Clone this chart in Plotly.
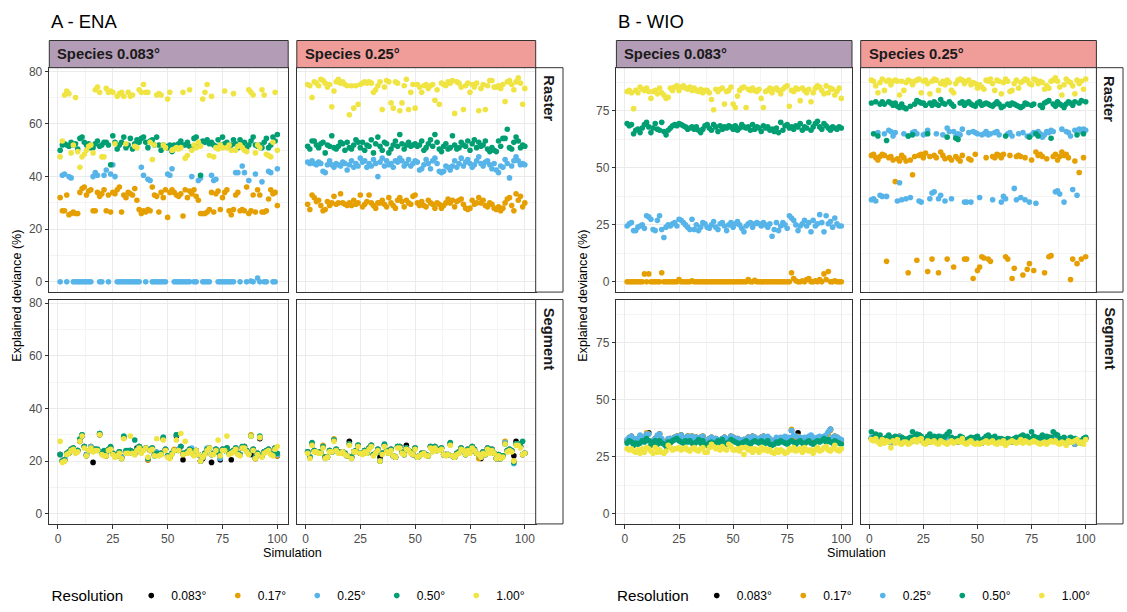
import plotly.graph_objects as go

W, H = 1127, 612
FONT = "Liberation Sans, Arial, Helvetica, sans-serif"

simulation = list(range(1, 101))
resolutions = ["0.083°", "0.17°", "0.25°", "0.50°", "1.00°"]
res_colors = ["#000000", "#E69F00", "#56B4E9", "#009E73", "#F0E442"]
species_labels = ["Species 0.083°", "Species 0.25°"]
species_fill = ["#B39CB5", "#F09D9A"]
method_labels = ["Raster", "Segment"]
panel_titles = {"A": "A - ENA", "B": "B - WIO"}
x_ticks = [0, 25, 50, 75, 100]
y_ticks = {"A": [0, 20, 40, 60, 80], "B": [0, 25, 50, 75]}

# ---------------- A - ENA, Species 0.083°, Raster ----------------
ena_r083_017 = [
    32, 27, 27, 33, 25.5, 26, 26.5, 26, 26, 34,
    35.5, 36, 33, 34.5, 35, 27, 27, 34, 32.5, 33.5,
    35, 27, 33, 26.5, 34, 33.5, 35, 36, 26.5, 33,
    32, 34, 33.5, 33, 35.5, 31, 27.5, 26, 27, 26.5,
    27.5, 27, 36, 33, 32.5, 26.5, 34, 32, 35, 24.5,
    34, 35, 34, 33, 32.5, 33.5, 25, 35, 32, 34.5,
    33.5, 35, 32.5, 31, 26, 26, 26, 26.5, 27.5, 34,
    26.5, 33.5, 34.5, 27.5, 32, 34, 35, 27, 25.5, 27.5,
    33, 34, 27, 27.5, 27, 36, 26, 27, 33, 26.5,
    35, 33, 26.5, 26.5, 27, 31.5, 35, 33.5, 34, 29,
]
ena_r083_025 = [
    0, 40.5, 41, 0, 40, 39.5, 0, 0, 0, 0,
    0, 0, 0, 0, 0, 40, 41.5, 40.5, 0, 0,
    40.5, 42.5, 0, 41, 44.5, 40, 0, 0, 0, 0,
    0, 0, 0, 0, 0, 0, 0, 43.5, 40.5, 0,
    39, 38.5, 0, 0, 0, 0, 0, 0, 0, 41,
    40.5, 43, 0, 0, 0, 0, 0, 0, 0, 0,
    40, 0, 0, 38.5, 39.5, 0, 0, 0, 0, 40.5,
    38.5, 39, 0, 0, 0, 0, 0, 0, 0, 0,
    41.5, 41.5, 0, 44, 41.5, 0, 38.5, 0.3, 0, 41,
    1.5, 0, 38, 0, 0, 42, 41.5, 0, 0, 43,
]
ena_r083_050 = [
    50, 52, 52.5, 52, 51.5, 53, 52, 52.5, 50.5, 54.5,
    55, 53, 52, 52.5, 51, 51, 52.5, 53.5, 51.5, 52,
    53, 53, 52, 44.5, 55.5, 53, 50.5, 52, 53, 55,
    51, 52, 54.5, 50.5, 52.5, 54, 53, 54.5, 55, 53,
    51, 53.5, 54, 52, 55, 52, 50, 52, 51.5, 51,
    52, 49.5, 52, 51, 52.5, 53.5, 52, 52, 53, 51.5,
    51, 54.5, 55, 52, 40.5, 53.5, 53, 54, 52.5, 53,
    52, 51.5, 54, 52, 55, 52.5, 53, 51.5, 52, 54,
    52.5, 51, 54, 52, 53, 51, 52, 53.5, 55, 52,
    51.5, 52, 51, 53, 54.5, 51, 52, 55, 53.5, 56,
]
ena_r083_100 = [
    47.5, 53.5, 71, 72.5, 71.5, 49, 52, 70, 49.5, 43.5,
    47.5, 48.5, 50, 51.5, 52, 49, 73, 74, 72, 47.5,
    47.5, 73.5, 72, 72.5, 72, 52.5, 70.5, 71.5, 72, 70.5,
    52.5, 72, 70.5, 71, 51.5, 51, 73, 72, 75, 72,
    72, 53, 46.5, 52, 71, 71.5, 71, 52, 51, 69.5,
    72, 50, 50.5, 51, 50.5, 51, 72, 47, 48, 73,
    50, 52, 51, 53, 51.5, 69.5, 72, 75, 48, 70.5,
    47.5, 51, 50.5, 52, 51, 72.5, 51, 52, 50, 71.5,
    50, 51.5, 52, 51, 50, 49.5, 73, 72, 71, 49,
    52, 51, 73, 71, 48.5, 48, 47.5, 53, 72, 50,
]

# ---------------- A - ENA, Species 0.25°, Raster ----------------
ena_r025_017 = [
    29.5, 27.5, 33, 32, 30.5, 31, 29, 27, 27.5, 30.5,
    29, 30, 32.5, 29.5, 30, 33.5, 30, 29.5, 29, 30,
    29, 31, 29.5, 30, 33, 28.5, 29.5, 30.5, 33, 30,
    29, 28, 30, 30, 31, 29.5, 28.5, 32, 30, 29,
    28, 31, 32, 30.5, 28.5, 31, 30, 29.5, 32.5, 33,
    30, 29, 30.5, 29, 28.5, 31, 30, 29.5, 28, 30,
    29.5, 28, 29, 30, 31.5, 30, 31, 28.5, 30.5, 31,
    31.5, 29.5, 28, 27.5, 28, 31, 29.5, 30, 32, 30,
    31, 29, 28.5, 30, 29.5, 28, 27.5, 28.5, 27, 28,
    30, 31.5, 32, 29, 27, 33.5, 31, 32.5, 28.5, 30,
]
ena_r025_025 = [
    45.5, 45, 46, 45, 44.5, 45.5, 45, 42, 41.5, 44.5,
    46, 44.5, 43.5, 45, 44.5, 44, 45.5, 45, 42.5, 44.5,
    46, 43.5, 45, 44, 47, 45.5, 46, 43.5, 45, 44,
    46.5, 45, 40, 45.5, 47, 44, 46, 44.5, 45, 43.5,
    46, 45.5, 47, 46, 44, 45, 46.5, 44, 45, 46,
    45.5, 42.5, 43, 44.5, 46.5, 45, 43, 46, 47, 45,
    42, 41.5, 42, 44, 43.5, 42.5, 44, 46, 43.5, 45,
    47, 44, 45.5, 46.5, 45, 43.5, 44.5, 46, 47.5, 45,
    44, 45.5, 46, 44.5, 43, 45, 42.5, 41.5, 44, 43.5,
    46.5, 45, 39.5, 44, 46, 47.5, 46, 44.5, 45, 44.5,
]
ena_r025_050 = [
    51.5, 50.5, 53.5, 53.5, 52, 51, 52.5, 53, 49, 52,
    51.5, 55.5, 51, 50.5, 51.5, 53, 52.5, 50, 53, 51,
    50.5, 52, 54, 53, 51, 53, 50, 52, 51.5, 54,
    49, 52.5, 55, 51.5, 50, 53, 52.5, 49, 50.5, 52,
    53.5, 51.5, 56, 52.5, 50.5, 52, 53, 51.5, 52, 52.5,
    51.5, 52, 53.5, 50, 51, 52.5, 54, 51.5, 56, 53,
    50.5, 49.5, 51.5, 52.5, 50.5, 51, 55.5, 52, 50.5, 51,
    53, 52, 51.5, 53.5, 50, 52.5, 54, 51, 53, 51.5,
    52, 53.5, 50.5, 49.5, 51, 50, 49.5, 53.5, 51.5, 54.5,
    54.5, 58, 51, 50.5, 53, 55, 53.5, 51, 52, 51.5,
]
ena_r025_100 = [
    75, 74.5, 70, 76, 75.5, 74.5, 77, 76.5, 75.5, 74,
    75, 66.5, 72.5, 76, 77, 75.5, 76, 75, 74.5, 63.5,
    74.5, 66, 74.5, 67.5, 75, 75.5, 76, 75.5, 76, 75.5,
    72, 73, 74.5, 76, 65.5, 74, 76.5, 76, 68, 66,
    76, 75.5, 65, 68, 74.5, 77, 65.5, 72, 75, 66,
    75, 74, 72, 74.5, 75, 73.5, 74.5, 75, 69, 73,
    67.5, 75.5, 75, 74.5, 76, 75.5, 76.5, 64, 76, 75.5,
    74, 65.5, 74.5, 75.5, 72, 75, 74, 75.5, 65, 73.5,
    75, 65.5, 74.5, 76.5, 76.5, 74, 74, 74.5, 73.5, 75,
    68.5, 76, 76.5, 75, 73, 76, 77.5, 75.5, 67.5, 73.5,
]

# ---------------- A - ENA, Species 0.083°, Segment ----------------
ena_s083_008 = [
    22.5, 20, 20.5, 22.5, 23, 24.5, 25, 23.5, 24, 27.5,
    29.5, 25.5, 22.5, 24, 25.5, 19.5, 24.5, 24, 30, 23.5,
    22.5, 22, 24, 25, 23, 22, 22.5, 23.5, 21.5, 29,
    23.5, 23.5, 24, 23, 23, 25, 25.5, 23.5, 24.5, 25,
    20.5, 24, 25, 22.5, 23, 22.5, 23, 28.5, 24.5, 22,
    21.5, 23, 24, 29.5, 24.5, 25.5, 20.5, 23, 23.5, 24.5,
    23.5, 22.5, 24, 22.5, 20, 21, 23, 24.5, 25, 19.5,
    23, 24.5, 23.5, 20.5, 24.5, 24, 25, 23, 20.5, 24,
    25, 23, 22.5, 25, 25.5, 24, 23, 22.5, 24.5, 21,
    23, 28.5, 22, 23.5, 24, 24.5, 23, 22.5, 25, 22,
]
ena_s083_017 = [
    22.5, 20, 20, 23, 23.5, 24.5, 25, 23.5, 24, 28,
    30, 25.5, 22, 24, 25.5, 24, 24, 24.5, 30.5, 23,
    22.5, 22, 24.5, 25, 23, 22, 22, 23.5, 21, 29,
    23.5, 23.5, 24, 23.5, 22.5, 24.5, 25.5, 23.5, 24.5, 25,
    20.5, 24, 25, 22.5, 23, 22.5, 22.5, 28.5, 24.5, 22,
    21.5, 23, 24.5, 30, 24, 25.5, 22.5, 23, 23.5, 24.5,
    23.5, 22.5, 24, 22.5, 20, 21.5, 23, 24.5, 25, 22.5,
    23, 24.5, 23.5, 21.5, 24.5, 24, 25, 23, 23.5, 24,
    25, 23, 22.5, 25, 25.5, 24, 23, 30, 24.5, 21,
    23, 29, 22, 23.5, 24, 24.5, 23, 22.5, 25, 22,
]
ena_s083_025 = [
    22.5, 20, 20.5, 22.5, 23.5, 24.5, 25, 23.5, 24, 28,
    30, 25.5, 22.5, 24, 25.5, 24, 24.5, 24.5, 30.5, 23.5,
    22.5, 22.5, 24, 25, 23, 22, 22, 23.5, 21.5, 29,
    23.5, 23.5, 24, 23, 23, 24.5, 25.5, 23.5, 24.5, 25,
    21, 24, 25, 22, 23.5, 22.5, 23, 29, 24.5, 22,
    21.5, 23, 24, 30, 24.5, 25.5, 23, 23, 23.5, 24.5,
    25, 22.5, 24, 22.5, 20, 21.5, 23, 25, 25, 22.5,
    23, 24.5, 23.5, 21, 24.5, 24, 25, 23, 23.5, 24,
    25, 23, 22.5, 25.5, 25.5, 24, 23, 29.5, 24.5, 21.5,
    23, 29, 22, 23.5, 24, 24.5, 23, 22.5, 25, 22.5,
]
ena_s083_050 = [
    22.5, 20, 20.5, 23, 23.5, 24.5, 25, 23.5, 24, 28.5,
    30, 25.5, 22, 24, 25, 24, 24.5, 24.5, 30.5, 23,
    24, 22.5, 24.5, 25.5, 23, 22, 22, 23.5, 21, 29.5,
    24, 24, 24, 23.5, 28, 24.5, 25.5, 23.5, 24.5, 25,
    21, 24.5, 25, 22, 23, 22.5, 23, 29, 24.5, 22,
    21.5, 23, 24, 30, 24, 25.5, 23, 23, 23.5, 24.5,
    24, 22.5, 24, 22.5, 20, 21.5, 23, 24.5, 25, 22.5,
    23, 24.5, 23.5, 22, 24.5, 24, 25, 23, 23.5, 24,
    25, 23, 22.5, 25.5, 25.5, 24, 23, 29.5, 24.5, 21.5,
    23, 29.5, 22, 23.5, 24, 24.5, 23, 22.5, 25, 23,
]
ena_s083_100 = [
    27.5, 19.5, 20, 22.5, 23, 24, 24.5, 23, 23.5, 27.5,
    29.5, 25, 22, 24, 25, 23.5, 24, 24, 30, 22.5,
    22, 22, 24, 24.5, 22.5, 21.5, 22, 23, 21, 28.5,
    23, 23, 29.5, 23, 22.5, 24, 25, 23, 24, 25,
    21.5, 24, 24.5, 22, 28.5, 22, 22.5, 28, 24, 21.5,
    21, 22.5, 24, 28, 24, 30.5, 22.5, 27.5, 23, 24,
    23, 22, 24, 22.5, 20, 21.5, 22.5, 24, 25, 22.5,
    22.5, 24, 28, 22, 24, 24, 29.5, 22.5, 23, 23.5,
    24.5, 22.5, 22, 25, 25, 23.5, 22.5, 29.5, 24, 21,
    22.5, 29, 21.5, 23, 23.5, 24, 22.5, 22, 24.5, 25.5,
]

# ---------------- A - ENA, Species 0.25°, Segment ----------------
ena_s025_008 = [
    23.5, 21.5, 26.5, 24, 23.5, 23.5, 23, 25.5, 21.5, 21.5,
    24, 23.5, 28, 24.5, 23.5, 23, 23.5, 23, 22, 27.5,
    21.5, 23.5, 24, 26, 23, 23, 24, 23, 25, 26,
    22.5, 23, 24.5, 21.5, 23, 26, 24, 23, 24.5, 22,
    21.5, 25.5, 25.5, 23.5, 22.5, 26, 24, 23.5, 22.5, 25,
    21.5, 22, 23, 23, 22.5, 22, 25.5, 24, 25.5, 24,
    24.5, 25, 22.5, 22.5, 22.5, 26.5, 22, 21.5, 23, 23.5,
    25, 24, 22.5, 24.5, 23.5, 25.5, 24.5, 23, 22.5, 21,
    23.5, 22.5, 25, 23.5, 24.5, 23, 21, 21, 21, 22,
    27, 24, 24.5, 24, 22, 27.5, 26.5, 25.5, 22.5, 23,
]
ena_s025_017 = [
    23.5, 21.5, 26.5, 24, 23.5, 23.5, 23, 26, 21.5, 21.5,
    24, 23.5, 28.5, 24.5, 23.5, 23, 23.5, 23, 22, 26.5,
    21.5, 23.5, 24, 26, 23, 23, 24, 23, 25, 26,
    22.5, 23, 24.5, 20, 23, 26, 24, 23, 24.5, 22,
    21.5, 25.5, 25.5, 23.5, 22.5, 25, 24, 23.5, 22.5, 25,
    21.5, 22, 23, 23, 22.5, 22, 25.5, 24, 25.5, 24,
    24.5, 25, 22.5, 22.5, 22.5, 26.5, 22, 21.5, 23, 23.5,
    25, 24, 22.5, 24.5, 23.5, 25.5, 24.5, 23, 21, 21.5,
    23.5, 22.5, 25, 23.5, 24.5, 23, 21, 22.5, 21, 22,
    27.5, 24, 24.5, 24, 20, 26.5, 26.5, 25.5, 22.5, 23,
]
ena_s025_025 = [
    23.5, 21.5, 26.5, 24, 23.5, 23.5, 23, 25.5, 21, 21.5,
    24, 23.5, 28, 24.5, 23.5, 23, 23.5, 23, 22, 26.5,
    21, 23.5, 24, 26, 23, 23, 24, 23, 25, 26,
    22.5, 23, 24.5, 20, 23, 26, 24, 23, 24.5, 22,
    21.5, 25.5, 25.5, 23.5, 22.5, 25, 24, 23.5, 22.5, 25,
    21.5, 22, 23, 23, 22.5, 22, 25.5, 24, 25.5, 24,
    24.5, 25, 22.5, 22.5, 22.5, 26.5, 22, 21.5, 23, 23.5,
    25, 24, 22.5, 24.5, 23.5, 25.5, 24.5, 23, 22.5, 21.5,
    23.5, 22.5, 25, 23.5, 24.5, 23, 21, 22.5, 21, 22,
    27, 24, 24.5, 24, 19, 26.5, 26.5, 25.5, 22.5, 23,
]
ena_s025_050 = [
    23.5, 21.5, 27, 24, 23.5, 23.5, 23, 25.5, 21.5, 21.5,
    24, 23.5, 28, 24.5, 23.5, 23, 23.5, 23, 22, 26.5,
    21.5, 23.5, 24, 26, 23, 23, 24, 23, 25, 26,
    22.5, 23, 24.5, 20, 23, 26.5, 24, 23, 24.5, 22,
    21.5, 25.5, 25.5, 23.5, 22.5, 25, 24, 23.5, 22.5, 25,
    21.5, 22, 23, 23, 22.5, 22, 25.5, 24, 25.5, 24,
    24.5, 25, 22.5, 22.5, 22.5, 27, 22, 21.5, 23, 23.5,
    25, 24, 22.5, 24.5, 23.5, 25.5, 24.5, 23, 22.5, 21.5,
    23.5, 22.5, 25, 23.5, 24.5, 23, 21, 22.5, 21, 22,
    26.5, 24, 24.5, 24, 19.5, 26.5, 26.5, 25.5, 27.5, 23,
]
ena_s025_100 = [
    23, 21, 26, 23.5, 23.5, 23, 23, 25, 21, 21.5,
    23.5, 23.5, 27.5, 24, 23, 23, 23.5, 22.5, 22, 26,
    21, 23.5, 23.5, 25.5, 23, 22.5, 23.5, 23, 24.5, 25.5,
    22, 23, 24, 20, 22.5, 25.5, 23.5, 23, 24, 22,
    21.5, 25, 25, 23, 22.5, 24.5, 24, 23, 22.5, 24.5,
    21.5, 22, 22.5, 23, 22, 22, 25, 23.5, 25, 24,
    24, 24.5, 22.5, 22, 22.5, 26, 22, 21.5, 22.5, 23,
    24.5, 24, 22.5, 24, 23, 25, 24, 23, 22.5, 21.5,
    23, 22.5, 24.5, 23, 24, 23, 21, 22, 21, 21.5,
    26.5, 23.5, 24, 23.5, 20, 26, 26, 25, 22.5, 23,
]

# ---------------- B - WIO, Species 0.083°, Raster ----------------
wio_r083_017 = [
    0, 0, 0, 0, 0, 0, 0, 0, 3.5, 0,
    3.5, 0, 0, 0, 0, 0, 4, 0, 0, 0,
    0, 0, 0, 0, 1, 0, 0, 0, 0, 0,
    0.5, 0, 0, 0, 0, 0, 0, 0, 0, 0,
    0, 0, 0, 0, 0, 0, 0, 0, 0, 0,
    0, 0, 0, 0, 0, 0, 1, 0, 0, 0.7,
    0, 0, 0, 0, 0, 0, 0, 0, 0, 0,
    0, 0, 0, 0, 0, 0, 4, 1.5, 0.5, 0,
    0, 0.5, 0, 1, 1.5, 0, 0, 0.5, 0, 1,
    0, 3.5, 1, 4.5, 0, 0, 0.5, 0, 0, 0,
]
wio_r083_025 = [
    24.5, 25.5, 26, 22.5, 22.5, 24, 24.5, 25, 23.5, 29,
    28.5, 27.5, 23, 22.5, 27, 29, 23, 19.5, 24, 25,
    24.5, 25.5, 26, 24.5, 27.5, 27, 26, 25, 24, 23,
    27.5, 23, 25, 22.5, 24, 26, 25.5, 24, 23.5, 25,
    26.5, 24, 23, 25.5, 26, 24.5, 22.5, 25, 26, 24,
    25.5, 26.5, 25, 23.5, 22, 24.5, 25.5, 26, 24, 25.5,
    26, 25.5, 24.5, 26, 25, 24, 25.5, 20, 23, 26,
    22.5, 24.5, 26, 25, 23.5, 29, 28, 27, 25, 22.5,
    24.5, 25.5, 27, 24.5, 26, 22, 27, 24.5, 25.5, 29.5,
    26, 22, 29, 25.5, 26.5, 24, 28, 25.5, 24.5, 24.5,
]
wio_r083_050 = [
    69.5, 68.5, 69, 65, 66.5, 67, 65.5, 67.5, 69, 70,
    68, 65.5, 67.5, 69.5, 67, 66.5, 70, 66, 64.5, 66.5,
    67.5, 68.5, 69, 68.5, 69.5, 69, 68.5, 68, 67, 67.5,
    68, 67, 68, 66.5, 65.5, 67, 68.5, 69, 67.5, 66.5,
    69, 68, 66, 68.5, 67, 68, 67.5, 68.5, 68, 67,
    68.5, 66.5, 67.5, 69, 68, 67.5, 68, 66.5, 69, 67,
    68, 67.5, 66, 68.5, 67.5, 68, 66.5, 67, 66, 67.5,
    65.5, 70, 66.5, 68.5, 69, 67.5, 68, 67, 68.5, 68,
    69.5, 66.5, 68, 67.5, 70, 66.5, 68, 69.5, 70.5, 68,
    67, 69.5, 68.5, 67.5, 66.5, 68, 67.5, 67, 68, 67.5,
]
wio_r083_100 = [
    83.5, 84, 83, 76, 84, 83, 85.5, 84.5, 84, 85,
    83.5, 80.5, 83.5, 84, 82.5, 85, 83, 82, 80.5, 81,
    85, 84, 85.5, 86, 84, 85.5, 86, 85, 84.5, 85.5,
    84, 85, 84, 83.5, 84.5, 83, 84, 84, 83, 80,
    75.5, 84.5, 83.5, 84.5, 85, 78, 83.5, 84, 85.5, 78,
    76.5, 81.5, 84, 85, 85.5, 76.5, 84.5, 84, 85, 84,
    83.5, 84.5, 80.5, 76.5, 83.5, 84, 85, 83, 84.5, 85,
    84, 82.5, 84.5, 85.5, 86, 77, 84, 83.5, 85, 84.5,
    79.5, 85, 84, 83, 84.5, 79, 83, 85, 86, 85.5,
    84, 82.5, 86, 83, 85, 84.5, 82, 83.5, 85, 80.5,
]

# ---------------- B - WIO, Species 0.25°, Raster ----------------
wio_r025_017 = [
    55.5, 56, 54.5, 53.5, 55, 56, 55.5, 9, 54.5, 55,
    53.5, 44, 54, 53, 55.5, 54.5, 53, 4, 53.5, 47,
    55, 9.5, 55.5, 56, 54.5, 56.5, 4.5, 55, 10, 55.5,
    54.5, 4, 57, 55.5, 54, 10, 54.5, 53.5, 6.5, 55,
    54, 53, 55.5, 10, 10, 54, 53.5, 1.5, 56, 5,
    6.5, 11, 10.5, 54.5, 10, 9, 55, 54.5, 56, 55.5,
    54.5, 56, 11, 10, 55.5, 1.5, 6, 55, 55.5, 55,
    3, 54.5, 5.5, 8, 53.5, 5, 57, 55.5, 56, 55,
    4, 54, 11, 11.5, 55, 56, 53.5, 55, 57, 55.5,
    56, 54.5, 1, 10, 53, 8, 48, 10, 54.5, 11,
]
wio_r025_025 = [
    36, 36.5, 35.5, 65.5, 38, 37.5, 65, 37.5, 66.5, 66,
    64, 65.5, 35.5, 43.5, 36, 65, 36.5, 64, 37, 65.5,
    66, 65, 35.5, 35, 64.5, 65, 66.5, 36.5, 39, 39.5,
    65, 36.5, 38, 64.5, 35.5, 67.5, 66, 36.5, 66, 64,
    65, 64.5, 67, 35, 35, 65.5, 35, 66, 65.5, 65,
    37, 64.5, 65, 66, 64.5, 65, 36, 65.5, 66, 64.5,
    35, 37.5, 36.5, 65, 65.5, 64, 41, 36, 65, 37,
    65.5, 36, 64, 35, 64.5, 65.5, 34.5, 66, 65, 63.5,
    64.5, 66, 65.5, 66.5, 66, 39.5, 40, 38.5, 67, 35,
    66, 65.5, 64, 40.5, 66.5, 38, 67, 66, 67, 66.5,
]
wio_r025_050 = [
    78.5, 65, 79, 64, 78, 79, 78, 62, 79, 78.5,
    77.5, 78.5, 77, 76.5, 78, 76.5, 76, 64, 77, 64.5,
    78, 79.5, 79, 78.5, 78.5, 77.5, 65, 78.5, 77.5, 79,
    78, 77.5, 80, 78.5, 78, 63.5, 79, 78, 77, 63,
    62.5, 78.5, 79, 77.5, 78.5, 79, 78, 77.5, 77, 78.5,
    79, 77.5, 78, 78.5, 78, 77.5, 77, 78, 79, 78,
    76.5, 77, 64, 78, 77.5, 78.5, 78, 77.5, 77, 76.5,
    77, 78.5, 78, 63.5, 77.5, 78, 65, 64, 77.5, 76.5,
    78.5, 79, 79.5, 63, 78, 77, 79, 78, 77.5, 76.5,
    78, 79, 78.5, 77.5, 79, 64.5, 78.5, 79.5, 65, 79,
]
wio_r025_100 = [
    88.5, 88, 86, 83, 87.5, 89, 84, 88, 88.5, 86.5,
    88, 88.5, 88, 82, 88, 84, 87.5, 88.5, 88, 86.5,
    88, 88.5, 89, 83, 88, 88.5, 87, 82.5, 88, 89,
    88.5, 84, 87, 88, 86.5, 88.5, 87.5, 84, 83, 87,
    88.5, 89, 88.5, 87, 88, 88.5, 86.5, 87.5, 87, 85,
    86.5, 85.5, 84.5, 88.5, 88, 89, 87, 84, 88.5, 88,
    82.5, 87.5, 89, 88, 83.5, 84, 87, 88.5, 85, 87.5,
    88, 89, 88.5, 87, 86.5, 89, 88.5, 87, 88, 87.5,
    84.5, 86, 85, 88, 88.5, 89.5, 88, 85.5, 82, 86.5,
    89, 88, 87.5, 86, 82.5, 88.5, 87, 88, 84.5, 89,
]

# ---------------- B - WIO, Species 0.083°, Segment ----------------
wio_s083_008 = [
    32, 33, 34, 32.5, 32, 33, 34, 33.5, 33, 35,
    35.5, 32, 31.5, 33, 34, 35, 32, 31, 30, 32.5,
    33, 32, 33.5, 34, 33.5, 34.5, 33, 32.5, 34, 33.5,
    34, 33, 33.5, 32, 33.5, 34, 31.5, 31, 33, 33.5,
    32.5, 33, 32, 31.5, 33, 33.5, 32.5, 33, 34, 33.5,
    32.5, 33, 32, 31.5, 32.5, 32, 33.5, 33, 34, 33.5,
    32.5, 32, 33.5, 34, 33, 33.5, 32.5, 31, 32, 33,
    32.5, 33, 32.5, 33.5, 32.5, 33, 36.5, 34, 33, 35.5,
    33, 32.5, 33, 32, 33.5, 34, 33, 32.5, 33, 33.5,
    33, 33.5, 34, 35.5, 37, 33, 34, 33.5, 32.5, 32,
]
wio_s083_017 = [
    32, 33.5, 34, 32.5, 32, 33, 34, 33.5, 33, 35.5,
    35, 32, 31.5, 33, 34, 35, 32.5, 31, 30.5, 32.5,
    33, 32, 33.5, 34, 34, 34.5, 33, 32.5, 34, 34,
    34, 33, 33.5, 32, 33.5, 34, 31.5, 31, 33, 33.5,
    32.5, 33, 32, 31.5, 33, 33.5, 32.5, 33, 34, 33.5,
    32.5, 33, 32, 31.5, 32.5, 32, 33.5, 33, 34, 33.5,
    32.5, 32, 33.5, 34, 33, 33.5, 32.5, 31, 32, 33,
    32.5, 33, 32.5, 33.5, 32.5, 33, 37, 34, 33, 34,
    33, 32.5, 33, 32, 33.5, 34, 33, 32.5, 33, 33.5,
    33, 33.5, 34, 35, 36.5, 33, 34, 33.5, 32.5, 32,
]
wio_s083_025 = [
    32.5, 33.5, 34, 33, 32.5, 33, 34.5, 33, 33.5, 35,
    35, 32, 32, 33, 34.5, 35, 33, 31.5, 30.5, 33,
    33, 32.5, 33.5, 34, 33.5, 34.5, 33.5, 32.5, 34, 33.5,
    34, 33, 33.5, 32.5, 33.5, 34, 32, 31.5, 33, 33.5,
    33, 33, 32.5, 32, 33, 33.5, 33, 33, 34, 33.5,
    32.5, 33, 32.5, 31.5, 32.5, 32.5, 33.5, 33, 34, 33.5,
    33, 32.5, 33.5, 34, 33, 34, 33, 31.5, 32, 33.5,
    33, 33.5, 33, 34, 33, 33.5, 36.5, 34.5, 34, 33.5,
    33.5, 33, 33.5, 32.5, 34, 34.5, 33.5, 33, 33.5, 34,
    33.5, 34, 34.5, 36, 37, 33.5, 34, 33.5, 33, 32.5,
]
wio_s083_050 = [
    31, 32, 31.5, 30, 31, 30.5, 31, 32, 31.5, 33,
    32, 30, 31.5, 32, 30.5, 32, 31, 30.5, 29.5, 31.5,
    31, 32, 32.5, 33, 32, 31.5, 31, 32, 31.5, 32,
    31, 30.5, 31.5, 32.5, 31, 32, 30.5, 30, 31, 31.5,
    30.5, 31, 32, 31, 32.5, 31, 30.5, 31.5, 32.5, 32,
    31.5, 31, 30.5, 31, 31.5, 32, 31, 30.5, 31.5, 32,
    31.5, 31, 32, 31.5, 31, 32, 30.5, 30, 30.5, 31.5,
    31, 32, 31.5, 31, 30.5, 31.5, 32, 31.5, 30.5, 31.5,
    32, 31, 30.5, 31.5, 32, 31, 30.5, 31.5, 32, 31.5,
    32, 33, 31.5, 32.5, 31.5, 31, 32, 31.5, 31, 30.5,
]
wio_s083_100 = [
    28.5, 28, 28.5, 27.5, 27, 28, 26.5, 28.5, 27, 29,
    28.5, 27.5, 26.5, 29, 27, 28, 27, 26.5, 27.5, 30,
    29, 28, 28.5, 28.5, 29, 28, 28.5, 29, 28, 27.5,
    28.5, 29, 28, 27.5, 28.5, 29, 27, 27, 29, 30.5,
    29.5, 28.5, 29, 28, 29.5, 28.5, 28, 30.5, 29.5, 28,
    28, 28.5, 27.5, 29, 26, 29, 28, 28.5, 27, 28.5,
    28, 27, 29, 28, 28.5, 27.5, 28, 27, 26.5, 28,
    27, 28, 27.5, 26.5, 27, 28.5, 28, 29, 27.5, 28,
    28.5, 27, 29, 28, 27.5, 28, 26.5, 28, 29, 27.5,
    28, 29, 29.5, 28, 27.5, 28.5, 30, 28, 27.5, 28.5,
]

# ---------------- B - WIO, Species 0.25°, Segment ----------------
wio_s025_008 = [
    33, 33, 32.5, 33.5, 32, 32, 32.5, 33, 33.5, 31,
    32.5, 32, 33.5, 34, 33, 32.5, 32, 32.5, 33, 32,
    32.5, 34, 34.5, 32.5, 32, 32.5, 33, 31.5, 32, 33.5,
    32, 33.5, 33.5, 33, 32, 31.5, 33, 32.5, 32, 32.5,
    31.5, 33, 33, 32, 31.5, 32, 32.5, 31.5, 32, 32.5,
    31.5, 31, 32, 32.5, 33.5, 33, 32.5, 32.5, 31.5, 32.5,
    32, 32, 31, 32, 32.5, 31.5, 32, 32.5, 32, 32.5,
    32, 33, 32.5, 32, 32.5, 32, 32.5, 31.5, 32.5, 33,
    31.5, 32, 33.5, 32.5, 33, 32, 32.5, 33, 32.5, 32,
    32, 33, 32.5, 31.5, 30.5, 32, 31.5, 31, 32.5, 33,
]
wio_s025_017 = [
    33, 33.5, 32.5, 33.5, 32, 32.5, 32.5, 33, 33, 31,
    32.5, 32, 33.5, 34, 33, 32.5, 32, 32.5, 33, 32.5,
    32.5, 34, 34.5, 32.5, 32, 32.5, 33, 31.5, 32, 33.5,
    32, 33.5, 33.5, 33, 32, 31.5, 33, 32.5, 32, 32.5,
    31.5, 33, 33, 32, 31.5, 32, 32.5, 31.5, 32, 32.5,
    31.5, 31, 32, 32.5, 33.5, 33, 32.5, 32.5, 31.5, 32.5,
    32, 32, 31, 32, 32.5, 31.5, 32, 32.5, 32, 32.5,
    32, 33, 32.5, 32, 32.5, 32, 32.5, 31.5, 32.5, 33,
    31.5, 32, 33.5, 32.5, 33, 32, 32.5, 33, 32.5, 32,
    32.5, 33, 32.5, 31.5, 30.5, 32, 31.5, 31, 32.5, 33,
]
wio_s025_025 = [
    33.5, 33, 33, 33.5, 32, 32, 32.5, 33, 33.5, 31,
    32.5, 32.5, 33.5, 34, 33, 32.5, 32, 32.5, 33, 32,
    32.5, 34, 34.5, 32.5, 32, 33, 33, 31.5, 32, 33.5,
    32, 33.5, 34, 33, 32, 31.5, 33, 32.5, 32, 32.5,
    31.5, 33, 33, 32, 31.5, 32, 32.5, 31.5, 32, 32.5,
    31.5, 31, 32, 33, 33.5, 33, 32.5, 32.5, 31.5, 32.5,
    32, 32, 31, 32, 32.5, 31.5, 32, 32.5, 32, 32.5,
    32, 33, 32.5, 32, 32.5, 32, 32.5, 31.5, 32.5, 33,
    31.5, 32, 33.5, 32.5, 33, 32, 32.5, 33, 32.5, 32,
    32, 33, 32.5, 31.5, 30.5, 32, 31.5, 31, 32.5, 33,
]
wio_s025_050 = [
    36, 33.5, 35, 34, 34.5, 33, 32, 33.5, 34.5, 33.5,
    33, 34, 33.5, 32.5, 33.5, 33, 32.5, 33, 33.5, 36,
    34, 35, 34.5, 34, 33, 32.5, 34, 35, 33.5, 34,
    33, 34, 33.5, 32.5, 34, 35, 36, 33.5, 32.5, 33,
    32, 34, 33.5, 32.5, 32, 33, 33.5, 32, 33.5, 34,
    32.5, 32, 33, 34, 34.5, 33.5, 33, 34, 32.5, 33,
    33, 32.5, 31.5, 33, 32.5, 32, 33, 33.5, 33, 34,
    34.5, 33, 34, 33, 36, 34, 33.5, 32.5, 33.5, 34.5,
    32.5, 34, 33, 33.5, 36, 35, 34.5, 33, 32.5, 33.5,
    32, 31.5, 33.5, 33, 33, 32.5, 31.5, 32, 33, 33.5,
]
wio_s025_100 = [
    32.5, 32, 33, 31.5, 30.5, 32.5, 31, 32, 31.5, 29,
    32, 31, 32.5, 31, 30.5, 31.5, 31.5, 30.5, 31, 32,
    32.5, 31.5, 32.5, 33, 31, 30.5, 32, 31.5, 31.5, 32,
    31, 30.5, 32, 31.5, 31, 30.5, 31.5, 32, 31, 31.5,
    32, 31.5, 33, 31, 30.5, 31.5, 32, 31, 30.5, 31,
    30.5, 31, 31.5, 32, 31, 31.5, 32, 31, 30.5, 31.5,
    31, 32, 30, 31, 31.5, 32, 31.5, 31, 31.5, 32.5,
    31, 32, 31.5, 31, 31.5, 32, 31.5, 31, 30.5, 31,
    31.5, 30.5, 31.5, 32, 31.5, 32, 31, 30.5, 31.5, 31,
    30, 32, 31.5, 31.5, 32, 32.5, 31, 31.5, 30.5, 32.5,
]

# facet -> series per resolution (None: resolution not modelled in that facet)
facets = {
    ("A", 0, 0): [None, ena_r083_017, ena_r083_025, ena_r083_050, ena_r083_100],
    ("A", 1, 0): [None, ena_r025_017, ena_r025_025, ena_r025_050, ena_r025_100],
    ("A", 0, 1): [ena_s083_008, ena_s083_017, ena_s083_025, ena_s083_050, ena_s083_100],
    ("A", 1, 1): [ena_s025_008, ena_s025_017, ena_s025_025, ena_s025_050, ena_s025_100],
    ("B", 0, 0): [None, wio_r083_017, wio_r083_025, wio_r083_050, wio_r083_100],
    ("B", 1, 0): [None, wio_r025_017, wio_r025_025, wio_r025_050, wio_r025_100],
    ("B", 0, 1): [wio_s083_008, wio_s083_017, wio_s083_025, wio_s083_050, wio_s083_100],
    ("B", 1, 1): [wio_s025_008, wio_s025_017, wio_s025_025, wio_s025_050, wio_s025_100],
}

# ---------------- layout geometry (pixels) ----------------
COL_X = {"A": [(49.3, 288.2), (296.8, 535.7)], "B": [(616.4, 852.0), (860.7, 1096.4)]}
ROW_Y = [(65.0, 290.5), (298.0, 523.5)]
STRIP_TOP = (37.7, 65.0)
STRIP_RIGHT = {"A": (535.7, 563.0), "B": (1096.4, 1123.0)}
YTITLE_X = {"A": 17.0, "B": 583.0}
LEGEND_X = {"A": 49.5, "B": 615.0}
# legend entry widths (the first label is longer, so its key takes more room)
LEGEND_ENTRY_W = [41.5, 34.5, 34.5, 34.5, 34.5]


def px(x):
    return x / W


def py(y):
    return 1 - y / H


def expand(lo, hi, frac=0.05):
    span = hi - lo
    return [lo - frac * span, hi + frac * span]


x_range = expand(min(simulation), max(simulation))
y_range = {}
for panel in ("A", "B"):
    vals = [v for key, series in facets.items() if key[0] == panel
            for s in series if s is not None for v in s]
    y_range[panel] = expand(min(vals), max(vals))

TICK_FONT = dict(family=FONT, size=12, color="#4D4D4D")
GRID = "#EBEBEB"
FRAME = "#333333"

fig = go.Figure()
layout_axes = {}
seen = set()
idx = 0
for panel in ("A", "B"):
    legend_name = "legend" if panel == "A" else "legend2"
    for row in (0, 1):
        for col in (0, 1):
            idx += 1
            xa = "x" if idx == 1 else f"x{idx}"
            ya = "y" if idx == 1 else f"y{idx}"
            x0, x1 = COL_X[panel][col]
            y0, y1 = ROW_Y[row]
            bottom = row == 1
            left = col == 0
            layout_axes["xaxis" if idx == 1 else f"xaxis{idx}"] = dict(
                domain=[px(x0), px(x1)], range=x_range, anchor=ya,
                tickmode="array", tickvals=x_ticks, showticklabels=bottom,
                ticks="outside" if bottom else "", ticklen=3.6, tickwidth=1,
                tickcolor=FRAME, tickfont=TICK_FONT,
                showline=True, mirror=True, linecolor=FRAME, linewidth=1,
                showgrid=True, gridcolor=GRID, gridwidth=1.1, zeroline=False,
                minor=dict(tickvals=[12.5, 37.5, 62.5, 87.5], showgrid=True,
                           gridcolor="#F4F4F4", gridwidth=0.6, ticks=""),
            )
            yt = y_ticks[panel]
            ym = [(a + b) / 2 for a, b in zip(yt[:-1], yt[1:])]
            ym.append(yt[-1] + (yt[1] - yt[0]) / 2)
            layout_axes["yaxis" if idx == 1 else f"yaxis{idx}"] = dict(
                domain=[py(y1), py(y0)], range=y_range[panel], anchor=xa,
                tickmode="array", tickvals=yt, showticklabels=left,
                ticks="outside" if left else "", ticklen=3.6, tickwidth=1,
                tickcolor=FRAME, tickfont=TICK_FONT,
                showline=True, mirror=True, linecolor=FRAME, linewidth=1,
                showgrid=True, gridcolor=GRID, gridwidth=1.1, zeroline=False,
                minor=dict(tickvals=ym, showgrid=True,
                           gridcolor="#F4F4F4", gridwidth=0.6, ticks=""),
            )
            series = facets[(panel, col, row)]
            for r, vals in enumerate(series):
                if vals is None:
                    continue
                first = (panel, r) not in seen
                seen.add((panel, r))
                fig.add_trace(go.Scatter(
                    x=simulation, y=vals, mode="markers",
                    marker=dict(color=res_colors[r], size=5.6, line=dict(width=0)),
                    name=resolutions[r], legendgroup=f"{panel}{r}",
                    legend=legend_name, legendrank=r + 1, showlegend=first,
                    legendwidth=LEGEND_ENTRY_W[r],
                    xaxis=xa, yaxis=ya, hoverinfo="skip",
                ))

shapes = []
annotations = []
for panel in ("A", "B"):
    # panel title
    annotations.append(dict(
        text=panel_titles[panel], x=px(COL_X[panel][0][0]), y=py(19), xref="paper", yref="paper",
        xanchor="left", yanchor="middle", showarrow=False,
        font=dict(family=FONT, size=18.5, color="#000000")))
    # species strips on top
    for col in (0, 1):
        x0, x1 = COL_X[panel][col]
        shapes.append(dict(type="rect", xref="paper", yref="paper",
                           x0=px(x0), x1=px(x1), y0=py(STRIP_TOP[1]), y1=py(STRIP_TOP[0]),
                           fillcolor=species_fill[col], line=dict(color=FRAME, width=1), layer="above"))
        annotations.append(dict(
            text=f"<b>{species_labels[col]}</b>", x=px(x0 + 6), y=py((STRIP_TOP[0] + STRIP_TOP[1]) / 2),
            xref="paper", yref="paper", xanchor="left", yanchor="middle", showarrow=False,
            font=dict(family=FONT, size=14.8, color="#1A1A1A")))
    # method strips on the right
    sx0, sx1 = STRIP_RIGHT[panel]
    for row in (0, 1):
        y0, y1 = ROW_Y[row]
        shapes.append(dict(type="rect", xref="paper", yref="paper",
                           x0=px(sx0), x1=px(sx1), y0=py(y1), y1=py(y0),
                           fillcolor="#FFFFFF", line=dict(color=FRAME, width=1), layer="above"))
        annotations.append(dict(
            text=f"<b>{method_labels[row]}</b>", x=px((sx0 + sx1) / 2), y=py(y0 + 6),
            xref="paper", yref="paper", xanchor="center", yanchor="top", textangle=90,
            showarrow=False, font=dict(family=FONT, size=14.8, color="#1A1A1A")))
    # axis titles
    annotations.append(dict(
        text="Explained deviance (%)", x=px(YTITLE_X[panel]), y=py((ROW_Y[0][0] + ROW_Y[1][1]) / 2),
        xref="paper", yref="paper", xanchor="center", yanchor="middle", textangle=-90,
        showarrow=False, font=dict(family=FONT, size=12.6, color="#000000")))
    annotations.append(dict(
        text="Simulation", x=px((COL_X[panel][0][0] + COL_X[panel][1][1]) / 2), y=py(553),
        xref="paper", yref="paper", xanchor="center", yanchor="middle",
        showarrow=False, font=dict(family=FONT, size=12.6, color="#000000")))

legend_style = dict(
    orientation="h", xanchor="left", yanchor="middle", y=py(596),
    title=dict(text="Resolution", side="left", font=dict(family=FONT, size=15.2, color="#000000")),
    font=dict(family=FONT, size=12.1, color="#000000"),
    bgcolor="rgba(0,0,0,0)", borderwidth=0,
    itemclick=False, itemdoubleclick=False,
)

fig.update_layout(
    width=W, height=H, margin=dict(l=0, r=0, t=0, b=0),
    paper_bgcolor="#FFFFFF", plot_bgcolor="#FFFFFF",
    font=dict(family=FONT, color="#000000"),
    shapes=shapes, annotations=annotations,
    legend=dict(legend_style, x=px(LEGEND_X["A"])),
    legend2=dict(legend_style, x=px(LEGEND_X["B"])),
    showlegend=True,
    **layout_axes,
)

fig.write_html("out.html")
